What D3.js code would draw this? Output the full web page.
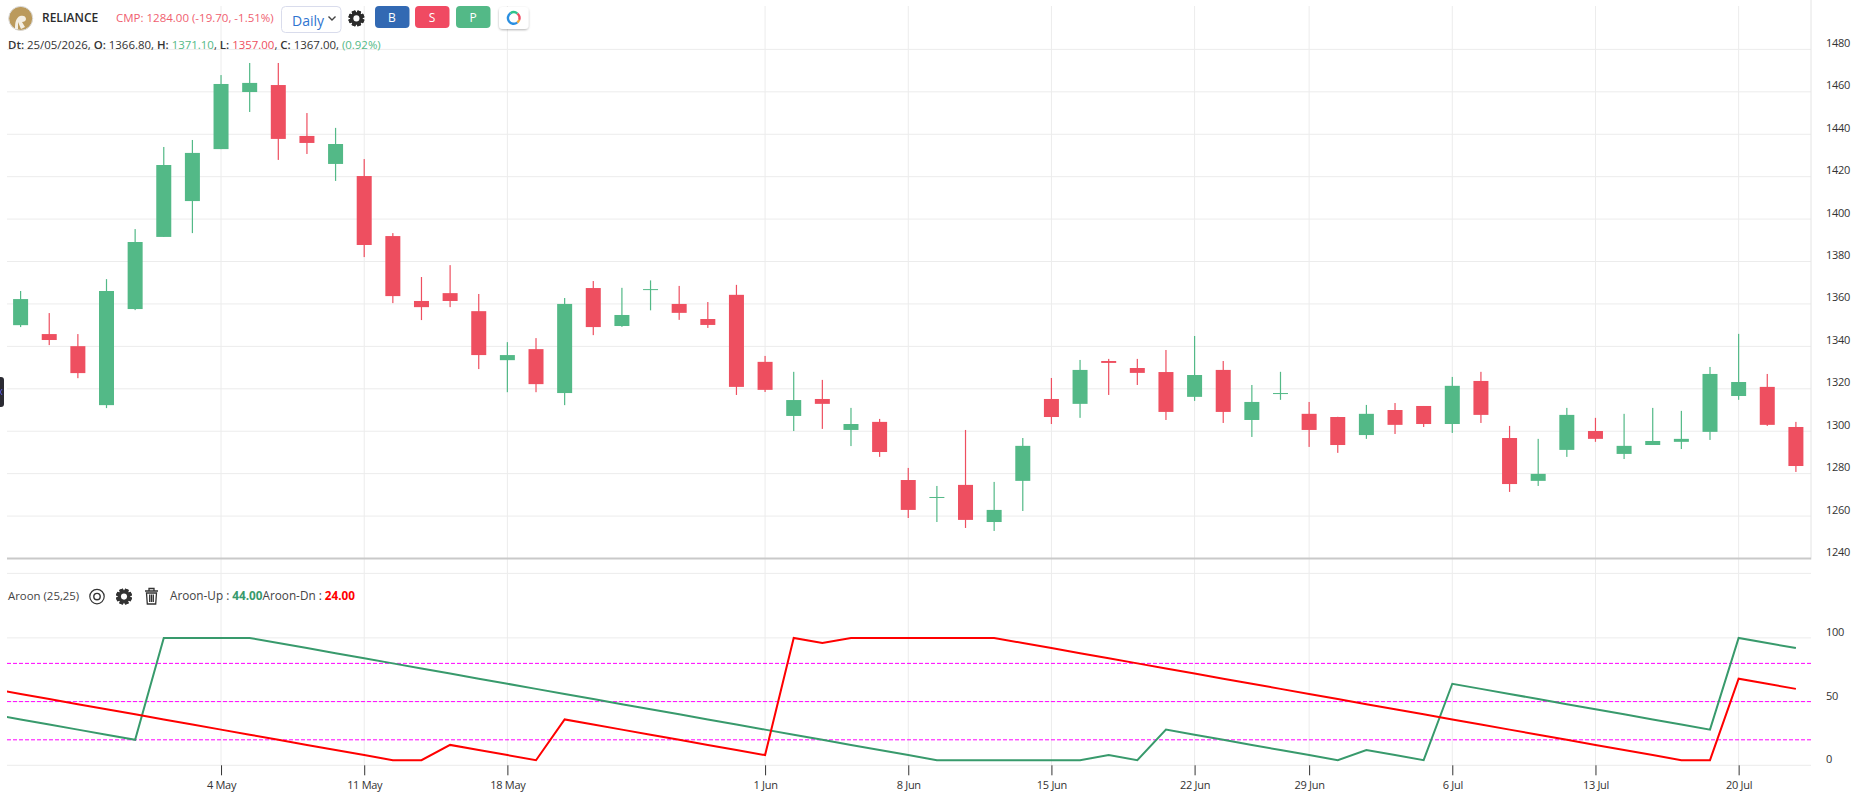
<!DOCTYPE html>
<html>
<head>
<meta charset="utf-8">
<title>RELIANCE</title>
<script src="https://cdn.jsdelivr.net/npm/d3@7"></script>
<style>
	html, body { margin: 0; padding: 0; background: #ffffff; overflow: hidden; }
	svg { display: block; }
	text { font-family: "Open Sans", sans-serif; }
</style>
</head>
<body>
<svg width="1862" height="806"></svg>
<script>
// candles, one entry per trading day, first one sits at index 0
var candleOpen = [1350.0, 1345.8, 1340.1, 1312.3, 1357.6, 1391.6, 1408.5, 1433.0, 1459.9, 1463.2, 1439.2, 1426.0, 1420.3, 1392.0, 1361.4, 1365.1, 1356.6, 1333.5, 1338.7, 1318.0, 1367.5, 1349.6, 1366.8, 1360.0, 1352.9, 1364.3, 1332.7, 1307.2, 1315.2, 1300.6, 1304.4, 1277.0, 1268.8, 1274.7, 1257.2, 1276.6, 1315.2, 1312.9, 1333.1, 1329.8, 1327.9, 1316.2, 1328.9, 1305.3, 1317.8, 1308.2, 1306.7, 1298.2, 1310.0, 1311.9, 1303.4, 1323.7, 1296.8, 1276.6, 1291.2, 1300.1, 1289.3, 1293.5, 1295.0, 1299.7, 1316.6, 1320.9, 1302.0];
var candleHigh = [1366.1, 1355.7, 1345.8, 1371.7, 1395.3, 1434.0, 1437.3, 1467.9, 1473.6, 1473.6, 1450.0, 1443.0, 1428.3, 1393.4, 1372.7, 1378.3, 1364.7, 1342.0, 1343.9, 1362.8, 1370.8, 1367.6, 1371.1, 1368.5, 1360.9, 1369.0, 1335.5, 1328.0, 1324.2, 1311.0, 1305.8, 1282.7, 1274.2, 1300.6, 1276.1, 1296.8, 1325.1, 1333.6, 1334.1, 1334.1, 1338.3, 1344.9, 1333.1, 1321.8, 1328.0, 1313.8, 1306.8, 1312.4, 1313.3, 1311.9, 1325.6, 1328.0, 1302.5, 1296.4, 1311.0, 1306.3, 1308.2, 1311.0, 1309.6, 1330.3, 1345.9, 1327.0, 1304.4];
var candleLow = [1349.1, 1340.6, 1325.0, 1310.9, 1357.1, 1391.6, 1393.4, 1433.0, 1450.5, 1427.9, 1430.7, 1418.0, 1382.1, 1360.4, 1352.4, 1358.5, 1329.3, 1318.4, 1318.4, 1312.3, 1345.3, 1349.2, 1357.0, 1352.5, 1348.7, 1317.1, 1318.5, 1300.1, 1301.1, 1293.0, 1287.9, 1259.1, 1257.2, 1254.4, 1253.0, 1262.4, 1303.4, 1306.3, 1317.1, 1321.8, 1305.3, 1314.3, 1303.9, 1297.3, 1314.8, 1292.6, 1289.8, 1296.4, 1298.7, 1302.0, 1299.2, 1303.9, 1271.4, 1274.2, 1287.9, 1295.0, 1286.9, 1293.5, 1291.6, 1295.9, 1314.8, 1302.5, 1280.8];
var candleClose = [1362.3, 1343.0, 1327.4, 1366.1, 1389.2, 1425.5, 1431.2, 1463.7, 1464.2, 1437.8, 1435.9, 1435.4, 1387.8, 1363.7, 1358.5, 1361.4, 1335.9, 1335.9, 1322.2, 1360.0, 1349.1, 1354.8, 1367.0, 1355.8, 1350.1, 1320.9, 1319.5, 1314.7, 1312.9, 1303.4, 1290.2, 1262.9, 1269.0, 1258.2, 1262.9, 1293.1, 1306.7, 1328.9, 1332.2, 1327.5, 1309.1, 1326.5, 1309.1, 1313.8, 1318.0, 1300.6, 1293.5, 1308.2, 1303.0, 1303.4, 1321.4, 1307.7, 1275.1, 1279.9, 1307.7, 1296.4, 1293.1, 1295.4, 1296.4, 1327.0, 1323.2, 1303.0, 1283.6];

// aroon values, these start one bar earlier than the candles (index -1)
var aroonUp = [40, 36, 32, 28, 24, 20, 100, 100, 100, 100, 96, 92, 88, 84, 80, 76, 72, 68, 64, 60, 56, 52, 48, 44, 40, 36, 32, 28, 24, 20, 16, 12, 8, 4, 4, 4, 4, 4, 4, 8, 4, 28, 24, 20, 16, 12, 8, 4, 12, 8, 4, 64, 60, 56, 52, 48, 44, 40, 36, 32, 28, 100, 96, 92];
var aroonDown = [60, 56, 52, 48, 44, 40, 36, 32, 28, 24, 20, 16, 12, 8, 4, 4, 16, 12, 8, 4, 36, 32, 28, 24, 20, 16, 12, 8, 100, 96, 100, 100, 100, 100, 100, 100, 96, 92, 88, 84, 80, 76, 72, 68, 64, 60, 56, 52, 48, 44, 40, 36, 32, 28, 24, 20, 16, 12, 8, 4, 4, 68, 64, 60];
var aroonLevels = [80, 50, 20];

// axis ticks
var dateTickIndex = [7, 12, 17, 26, 31, 36, 41, 45, 50, 55, 60];
var dateTickLabels = ["4 May", "11 May", "18 May", "1 Jun", "8 Jun", "15 Jun", "22 Jun", "29 Jun", "6 Jul", "13 Jul", "20 Jul"];
var priceTicks = [1240, 1260, 1280, 1300, 1320, 1340, 1360, 1380, 1400, 1420, 1440, 1460, 1480];
var aroonTicks = [0, 50, 100];

var GREEN = "#53b987";
var RED = "#ee4f60";
var AROON_GREEN = "#389a6c";
var GRID = "#ececec";
var TEXT = "#333333";

var svg = d3.select("svg");

var x = d3.scaleLinear().domain([0, 62]).range([20.6, 1795.9]);
var yPrice = d3.scaleLinear().domain([1240, 1480]).range([558.5, 49.4]);
var yAroon = d3.scaleLinear().domain([0, 100]).range([765.3, 637.9]);

var plotLeft = 7;
var plotRight = 1811;

svg.append("defs").append("clipPath")
	.attr("id", "plot")
	.append("rect")
	.attr("x", plotLeft)
	.attr("y", 0)
	.attr("width", plotRight - plotLeft)
	.attr("height", 806);

///////////////////////////////////////////////////
// grid

var grid = svg.append("g").attr("stroke", GRID).attr("stroke-width", 1);

grid.selectAll(".vgrid")
	.data(dateTickIndex)
	.enter().append("line")
	.attr("x1", function(d) { return x(d); })
	.attr("x2", function(d) { return x(d); })
	.attr("y1", 6)
	.attr("y2", yAroon(0));

grid.selectAll(".pgrid")
	.data(priceTicks)
	.enter().append("line")
	.attr("x1", plotLeft)
	.attr("x2", plotRight)
	.attr("y1", function(d) { return yPrice(d); })
	.attr("y2", function(d) { return yPrice(d); });

grid.selectAll(".agrid")
	.data(aroonTicks)
	.enter().append("line")
	.attr("x1", plotLeft)
	.attr("x2", plotRight)
	.attr("y1", function(d) { return yAroon(d); })
	.attr("y2", function(d) { return yAroon(d); });

// top edge of the aroon pane
grid.append("line")
	.attr("x1", plotLeft)
	.attr("x2", plotRight)
	.attr("y1", 573.4)
	.attr("y2", 573.4);

// right edge of the price pane
grid.append("line")
	.attr("x1", plotRight)
	.attr("x2", plotRight)
	.attr("y1", 0)
	.attr("y2", 559.5)
	.attr("stroke", "#e4e4e4");

// pane separator
svg.append("line")
	.attr("x1", plotLeft)
	.attr("x2", plotRight)
	.attr("y1", yPrice(1240))
	.attr("y2", yPrice(1240))
	.attr("stroke", "#c9c9c9")
	.attr("stroke-width", 2);

///////////////////////////////////////////////////
// candles

var candles = svg.append("g").selectAll("g")
	.data(candleOpen)
	.enter().append("g")
	.attr("fill", function(d, i) { return candleClose[i] >= candleOpen[i] ? GREEN : RED; });

candles.append("rect")
	.attr("x", function(d, i) { return x(i) - 0.6; })
	.attr("width", 1.2)
	.attr("y", function(d, i) { return yPrice(candleHigh[i]); })
	.attr("height", function(d, i) { return yPrice(candleLow[i]) - yPrice(candleHigh[i]); });

candles.append("rect")
	.attr("x", function(d, i) { return x(i) - 7.5; })
	.attr("width", 15)
	.attr("y", function(d, i) { return yPrice(Math.max(candleOpen[i], candleClose[i])); })
	.attr("height", function(d, i) {
		return Math.max(1, Math.abs(yPrice(candleOpen[i]) - yPrice(candleClose[i])));
	});

///////////////////////////////////////////////////
// aroon

svg.append("g").selectAll("line")
	.data(aroonLevels)
	.enter().append("line")
	.attr("x1", plotLeft)
	.attr("x2", plotRight)
	.attr("y1", function(d) { return yAroon(d); })
	.attr("y2", function(d) { return yAroon(d); })
	.attr("stroke", "#ff00ff")
	.attr("stroke-width", 1)
	.attr("stroke-dasharray", "4,2");

var aroonLine = d3.line()
	.x(function(d, i) { return x(i - 1); })
	.y(function(d) { return yAroon(d); });

var aroonGroup = svg.append("g").attr("clip-path", "url(#plot)");

aroonGroup.append("path")
	.attr("d", aroonLine(aroonUp))
	.attr("fill", "none")
	.attr("stroke", AROON_GREEN)
	.attr("stroke-width", 2);

aroonGroup.append("path")
	.attr("d", aroonLine(aroonDown))
	.attr("fill", "none")
	.attr("stroke", "#ff0000")
	.attr("stroke-width", 2);

///////////////////////////////////////////////////
// axes

var xAxis = d3.axisBottom(x)
	.tickValues(dateTickIndex)
	.tickFormat(function(d, i) { return dateTickLabels[i]; })
	.tickSize(10)
	.tickPadding(6);

var xAxisG = svg.append("g")
	.attr("transform", "translate(0," + yAroon(0) + ")")
	.call(xAxis);
xAxisG.select(".domain").remove();
xAxisG.selectAll("line").attr("stroke", "#333333");
xAxisG.selectAll("text")
	.attr("font-size", 11)
	.attr("fill", TEXT)
	.style("letter-spacing", "-0.3px")
	.style("font-family", "'Open Sans', sans-serif");

var priceAxis = d3.axisRight(yPrice)
	.tickValues(priceTicks)
	.tickFormat(d3.format("d"))
	.tickSize(0)
	.tickPadding(0);
var priceAxisG = svg.append("g")
	.attr("transform", "translate(1826,-6.5)")
	.call(priceAxis);
priceAxisG.select(".domain").remove();
priceAxisG.selectAll("text")
	.attr("font-size", 11)
	.attr("fill", TEXT)
	.style("letter-spacing", "-0.3px")
	.style("font-family", "'Open Sans', sans-serif");

var aroonAxis = d3.axisRight(yAroon)
	.tickValues(aroonTicks)
	.tickFormat(d3.format("d"))
	.tickSize(0)
	.tickPadding(0);
var aroonAxisG = svg.append("g")
	.attr("transform", "translate(1826,-6)")
	.call(aroonAxis);
aroonAxisG.select(".domain").remove();
aroonAxisG.selectAll("text")
	.attr("font-size", 11)
	.attr("fill", TEXT)
	.style("letter-spacing", "-0.3px")
	.style("font-family", "'Open Sans', sans-serif");

///////////////////////////////////////////////////
// header

function addGear(cx, cy, r, color) {
	var g = svg.append("g").attr("transform", "translate(" + cx + "," + cy + ")");
	d3.range(8).forEach(function(i) {
		g.append("rect")
			.attr("x", -r * 0.25)
			.attr("y", -r)
			.attr("width", r * 0.5)
			.attr("height", r * 2)
			.attr("rx", 0.6)
			.attr("fill", color)
			.attr("transform", "rotate(" + (i * 45 + 22.5) + ")");
	});
	g.append("circle").attr("r", r * 0.78).attr("fill", color);
	g.append("circle").attr("r", r * 0.38).attr("fill", "#ffffff");
}

// logo
svg.append("circle")
	.attr("cx", 20.7)
	.attr("cy", 18.4)
	.attr("r", 12)
	.attr("fill", "#bb9a5c")
	.attr("stroke", "#dcdcdc")
	.attr("stroke-width", 1);
svg.append("path")
	.attr("d", "M15 29 C15 22 16 18 20 16 C23 15 26 16 26 19 C26 21 24 22 22 22 L25 27 L21 29 L18 22 L18 29 Z")
	.attr("fill", "#f4efe4");

svg.append("text")
	.attr("x", 42)
	.attr("y", 22.4)
	.attr("font-size", 12)
	.attr("font-weight", 600)
	.attr("fill", "#2b2b2b")
	.text("RELIANCE");

svg.append("text")
	.attr("x", 116)
	.attr("y", 22.4)
	.attr("font-size", 11.5)
	.attr("fill", "#f0606f")
	.text("CMP: 1284.00 (-19.70, -1.51%)");

// timeframe select
svg.append("rect")
	.attr("x", 281.5)
	.attr("y", 6.5)
	.attr("width", 59.5)
	.attr("height", 26)
	.attr("rx", 4)
	.attr("fill", "#ffffff")
	.attr("stroke", "#d9dcec");
svg.append("text")
	.attr("x", 292)
	.attr("y", 25.5)
	.attr("font-size", 14)
	.attr("fill", "#2f74d0")
	.text("Daily");
svg.append("path")
	.attr("d", "M328.5 16.5 L332 20 L335.5 16.5")
	.attr("fill", "none")
	.attr("stroke", "#444444")
	.attr("stroke-width", 1.4);

addGear(356.4, 18.4, 8, "#2b2b2b");

// buy, sell, portfolio buttons
var btnLabels = ["B", "S", "P"];
var btnLeft = [375, 415, 456];
var btnColors = ["#3269b3", "#f04a62", "#53b987"];

svg.selectAll(".btn")
	.data(btnLabels)
	.enter().append("rect")
	.attr("x", function(d, i) { return btnLeft[i]; })
	.attr("y", 6)
	.attr("width", 34.5)
	.attr("height", 22)
	.attr("rx", 4)
	.attr("fill", function(d, i) { return btnColors[i]; });

svg.selectAll(".btnText")
	.data(btnLabels)
	.enter().append("text")
	.attr("x", function(d, i) { return btnLeft[i] + 17; })
	.attr("y", 21.5)
	.attr("text-anchor", "middle")
	.attr("font-size", 12)
	.attr("fill", "#ffffff")
	.text(function(d) { return d; });

// ring button
svg.append("defs").append("filter")
	.attr("id", "btnShadow")
	.append("feDropShadow")
	.attr("dx", 0)
	.attr("dy", 1)
	.attr("stdDeviation", 1.2)
	.attr("flood-color", "#000000")
	.attr("flood-opacity", 0.3);
svg.append("rect")
	.attr("x", 499)
	.attr("y", 7)
	.attr("width", 29.5)
	.attr("height", 22)
	.attr("rx", 4)
	.attr("fill", "#ffffff")
	.attr("filter", "url(#btnShadow)");

var ringArc = d3.arc().innerRadius(4.6).outerRadius(7);
var ringColors = ["#2fc28c", "#f04a62", "#f4a63a", "#2b8fe0"];
var ringStart = [-0.6, 0.7, 1.9, 2.5];
var ringEnd = [0.7, 1.9, 2.5, 5.7];
svg.append("g")
	.attr("transform", "translate(513.7,18)")
	.selectAll("path")
	.data(ringColors)
	.enter().append("path")
	.attr("d", function(d, i) { return ringArc({ startAngle: ringStart[i], endAngle: ringEnd[i] }); })
	.attr("fill", function(d) { return d; });

// ohlc line
var infoParts = [
	["Dt: ", TEXT, 600], ["25/05/2026, ", TEXT, 400],
	["O: ", TEXT, 600], ["1366.80, ", TEXT, 400],
	["H: ", TEXT, 600], ["1371.10", GREEN, 400], [", ", TEXT, 400],
	["L: ", TEXT, 600], ["1357.00", RED, 400], [", ", TEXT, 400],
	["C: ", TEXT, 600], ["1367.00, ", TEXT, 400],
	["(0.92%)", GREEN, 400]
];
svg.append("text")
	.attr("x", 8)
	.attr("y", 48.6)
	.attr("font-size", 11.45)
	.selectAll("tspan")
	.data(infoParts)
	.enter().append("tspan")
	.attr("fill", function(d) { return d[1]; })
	.attr("font-weight", function(d) { return d[2]; })
	.style("white-space", "pre")
	.text(function(d) { return d[0]; });

///////////////////////////////////////////////////
// aroon legend

svg.append("text")
	.attr("x", 8)
	.attr("y", 600.3)
	.attr("font-size", 11.4)
	.attr("fill", "#444444")
	.text("Aroon (25,25)");

svg.append("circle")
	.attr("cx", 97)
	.attr("cy", 596.6)
	.attr("r", 7.2)
	.attr("fill", "none")
	.attr("stroke", "#333333")
	.attr("stroke-width", 1.2);
svg.append("circle")
	.attr("cx", 97)
	.attr("cy", 596.6)
	.attr("r", 3.2)
	.attr("fill", "none")
	.attr("stroke", "#333333")
	.attr("stroke-width", 1.4);

addGear(124, 596.6, 8, "#333333");

svg.append("path")
	.attr("d", "M145 591 L158 591 M149 591 L149 588.5 L154 588.5 L154 591 M146.5 593 L147.3 604 L155.7 604 L156.5 593 Z M149.7 594.5 L149.7 602 M151.5 594.5 L151.5 602 M153.3 594.5 L153.3 602")
	.attr("fill", "none")
	.attr("stroke", "#333333")
	.attr("stroke-width", 1.3);

var legendParts = [
	["Aroon-Up : ", "#444444", 400], ["44.00", AROON_GREEN, 700],
	["Aroon-Dn : ", "#444444", 400], ["24.00", "#ff0000", 700]
];
svg.append("text")
	.attr("x", 170)
	.attr("y", 600.3)
	.attr("font-size", 11.75)
	.selectAll("tspan")
	.data(legendParts)
	.enter().append("tspan")
	.attr("fill", function(d) { return d[1]; })
	.attr("font-weight", function(d) { return d[2]; })
	.style("white-space", "pre")
	.text(function(d) { return d[0]; });

// side panel handle
svg.append("rect")
	.attr("x", -5)
	.attr("y", 377)
	.attr("width", 9)
	.attr("height", 30)
	.attr("rx", 3)
	.attr("fill", "#2b2b33");
svg.append("path")
	.attr("d", "M2 389 L0 392 L2 395")
	.attr("fill", "none")
	.attr("stroke", "#5a5ae0")
	.attr("stroke-width", 1);
</script>
</body>
</html>
